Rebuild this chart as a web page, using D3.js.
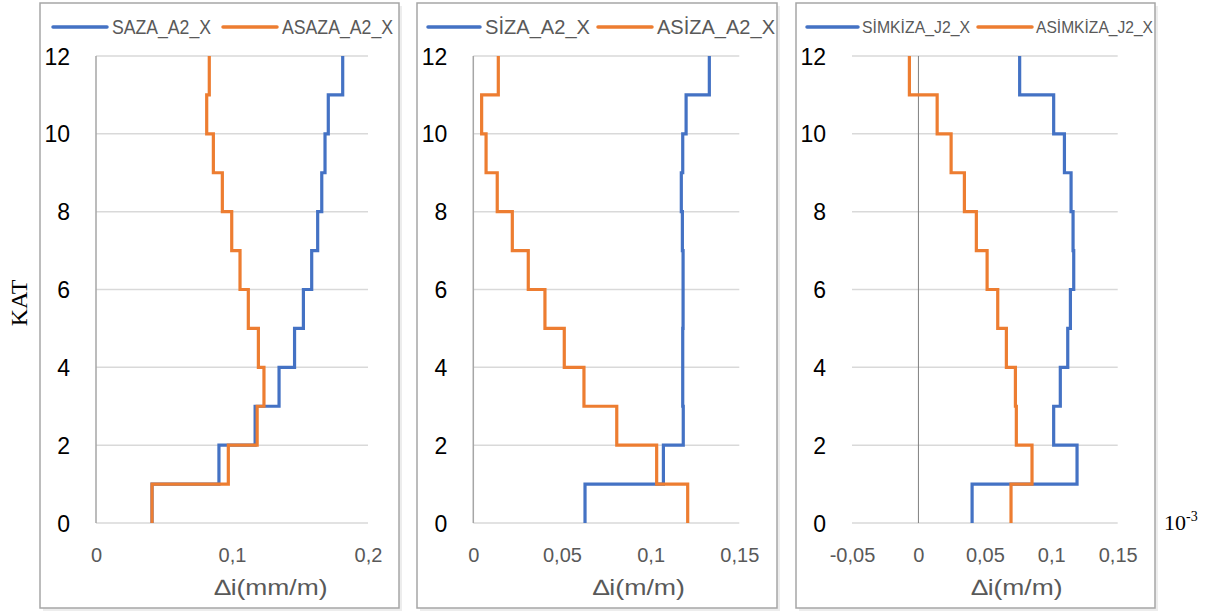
<!DOCTYPE html>
<html>
<head>
<meta charset="utf-8">
<script src="https://cdn.jsdelivr.net/npm/d3@7"></script>
<style>
  html, body { margin: 0; padding: 0; background: #ffffff; }
  svg { display: block; }
</style>
</head>
<body>
<svg id="chart" width="1230" height="615"></svg>
<script>
// ---- data (values per story; story i spans KAT i-1 .. i) ----
const stories = [1, 2, 3, 4, 5, 6, 7, 8, 9, 10, 11, 12];
const yTicks = [0, 2, 4, 6, 8, 10, 12];

const sazaA2X   = [0.0412, 0.0904, 0.1170, 0.1346, 0.1460, 0.1525, 0.1586, 0.1630, 0.1660, 0.1684, 0.1708, 0.1814];
const asazaA2X  = [0.0412, 0.0973, 0.1185, 0.1235, 0.1194, 0.1120, 0.1059, 0.0998, 0.0929, 0.0863, 0.0814, 0.0833];

const sizaA2X   = [0.0630, 0.1072, 0.1184, 0.1181, 0.1181, 0.1183, 0.1183, 0.1179, 0.1173, 0.1181, 0.1200, 0.1331];
const asizaA2X  = [0.1209, 0.1034, 0.0809, 0.0624, 0.0513, 0.0404, 0.0310, 0.0220, 0.0135, 0.0072, 0.0047, 0.0141];

const simkizaJ2X  = [0.0404, 0.1194, 0.1018, 0.1068, 0.1124, 0.1144, 0.1169, 0.1164, 0.1149, 0.1099, 0.1018, 0.0762];
const asimkizaJ2X = [0.0697, 0.0855, 0.0737, 0.0730, 0.0662, 0.0597, 0.0517, 0.0436, 0.0346, 0.0246, 0.0141, -0.0068];

const xTicks1 = [0, 0.1, 0.2];
const xTicks2 = [0, 0.05, 0.1, 0.15];
const xTicks3 = [-0.05, 0, 0.05, 0.1, 0.15];

const names1 = ["SAZA_A2_X", "ASAZA_A2_X"];
const names2 = ["SİZA_A2_X", "ASİZA_A2_X"];
const names3 = ["SİMKİZA_J2_X", "ASİMKİZA_J2_X"];
const xTitles = ["∆i(mm/m)", "∆i(m/m)", "∆i(m/m)"];
const yTitle = "KAT";

// ---- layout ----
const BLUE = "#4472C4", ORANGE = "#ED7D31";
const svg = d3.select("#chart");
const fontSans = "'Liberation Sans', Arial, sans-serif";
const fontSerif = "'Liberation Serif', 'Times New Roman', serif";

const y = d3.scaleLinear().domain([0, 12]).range([523, 56]);

const panels = [
  { frame: [40, 399], plot: [96, 368], domain: [0, 0.2], ticks: xTicks1, series: [sazaA2X, asazaA2X], names: names1,
    legend: { l1: [53, 107], t1: [112, 99], l2: [223, 277], t2: [282, 111], fs: 20 }, title: xTitles[0], titleX: 271, titleW: 113, zeroAxisDark: false },
  { frame: [417, 777], plot: [473.3, 739.3], domain: [0, 0.15], ticks: xTicks2, series: [sizaA2X, asizaA2X], names: names2,
    legend: { l1: [428, 480], t1: [485, 105], l2: [598, 652], t2: [657, 118], fs: 20 }, title: xTitles[1], titleX: 639, titleW: 92, zeroAxisDark: false },
  { frame: [796, 1155], plot: [852, 1117.7], domain: [-0.05, 0.15], ticks: xTicks3, series: [simkizaJ2X, asimkizaJ2X], names: names3,
    legend: { l1: [807, 858], t1: [862, 108], l2: [978, 1032], t2: [1036, 117], fs: 17 }, title: xTitles[2], titleX: 1017, titleW: 91, zeroAxisDark: true }
];

const fmt = v => (v === 0 ? "0" : String(+v.toFixed(3)).replace(".", ","));

panels.forEach(p => {
  const g = svg.append("g");
  // shadow + frame
  g.append("rect").attr("x", p.frame[0] + 3).attr("y", 6).attr("width", p.frame[1] - p.frame[0]).attr("height", 605)
    .attr("fill", "#ededed");
  g.append("rect").attr("x", p.frame[0]).attr("y", 3).attr("width", p.frame[1] - p.frame[0]).attr("height", 605)
    .attr("fill", "#ffffff").attr("stroke", "#a6a6a6").attr("stroke-width", 1.5);

  const x = d3.scaleLinear().domain(p.domain).range(p.plot);

  // horizontal gridlines
  g.append("g").selectAll("line").data(yTicks).join("line")
    .attr("x1", p.plot[0]).attr("x2", p.plot[1])
    .attr("y1", d => y(d)).attr("y2", d => y(d))
    .attr("stroke", "#d9d9d9").attr("stroke-width", 1.5);

  // vertical axis at x = 0
  g.append("line").attr("x1", x(0)).attr("x2", x(0)).attr("y1", y(12)).attr("y2", y(0))
    .attr("stroke", p.zeroAxisDark ? "#808080" : "#a6a6a6").attr("stroke-width", p.zeroAxisDark ? 1 : 1.5);

  // y tick labels
  const yAxis = d3.axisLeft(y).tickValues(yTicks).tickSize(0).tickPadding(0).tickFormat(d3.format("d"));
  const ya = g.append("g").attr("transform", `translate(${p.plot[0] - 26},0)`).call(yAxis);
  ya.select(".domain").remove();
  ya.selectAll("text").attr("font-family", fontSans).attr("font-size", 23).attr("fill", "#000").attr("dy", "0.35em");

  // x tick labels
  const xAxis = d3.axisBottom(x).tickValues(p.ticks).tickSize(0).tickPadding(0).tickFormat(fmt);
  const xa = g.append("g").attr("transform", `translate(0,555)`).call(xAxis);
  xa.select(".domain").remove();
  xa.selectAll("text").attr("font-family", fontSans).attr("font-size", 20).attr("fill", "#595959").attr("dy", "0.35em");

  // x title
  g.append("text").attr("x", p.titleX).attr("y", 587).attr("dy", "0.35em").attr("text-anchor", "middle")
    .attr("font-family", fontSans).attr("font-size", 22).attr("fill", "#595959")
    .attr("textLength", p.titleW).attr("lengthAdjust", "spacingAndGlyphs").text(p.title);

  // step lines
  const line = d3.line().x(d => x(d[0])).y(d => y(d[1]));
  p.series.forEach((vals, si) => {
    const pts = [];
    stories.forEach((s, i) => { pts.push([vals[i], s - 1]); pts.push([vals[i], s]); });
    g.append("path").datum(pts).attr("d", line).attr("fill", "none")
      .attr("stroke", si === 0 ? BLUE : ORANGE).attr("stroke-width", 3.2).attr("stroke-linejoin", "miter");
  });

  // legend
  const L = p.legend, ly = 27;
  [[L.l1, L.t1, BLUE, p.names[0]], [L.l2, L.t2, ORANGE, p.names[1]]].forEach(([ln, tx, col, name]) => {
    g.append("line").attr("x1", ln[0]).attr("x2", ln[1]).attr("y1", ly).attr("y2", ly)
      .attr("stroke", col).attr("stroke-width", 3.5).attr("stroke-linecap", "round");
    g.append("text").attr("x", tx[0]).attr("y", ly).attr("dy", "0.35em")
      .attr("font-family", fontSans).attr("font-size", L.fs).attr("fill", "#595959")
      .attr("textLength", tx[1]).attr("lengthAdjust", "spacingAndGlyphs").text(name);
  });
});

// y title
svg.append("text").attr("transform", "translate(19,303) rotate(-90)").attr("dy", "0.35em")
  .attr("text-anchor", "middle").attr("font-family", fontSerif).attr("font-size", 24).attr("fill", "#000").text(yTitle);

// 10^-3 note
const note = svg.append("text").attr("x", 1164).attr("y", 530).attr("font-family", fontSerif).attr("font-size", 22).attr("fill", "#000");
note.append("tspan").text("10");
note.append("tspan").attr("dy", -9).attr("font-size", 14).text("-3");
</script>
</body>
</html>
